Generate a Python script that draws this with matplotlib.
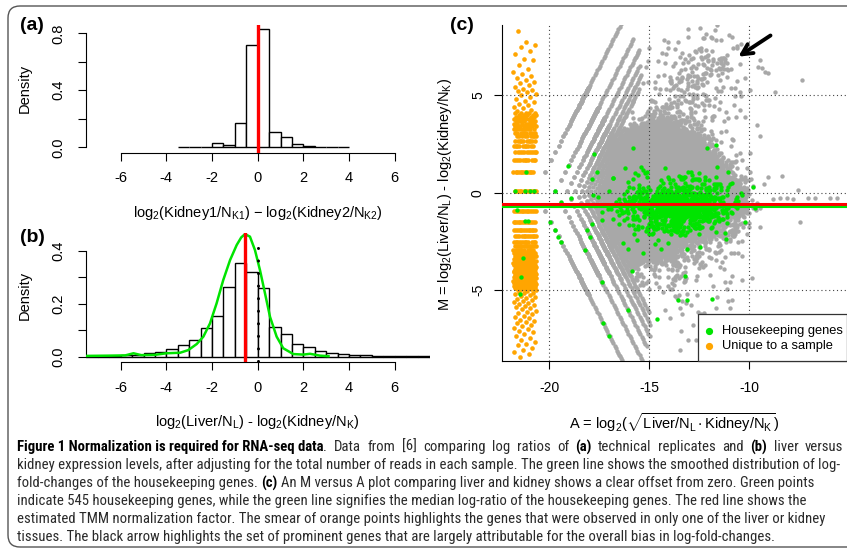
import numpy as np
import matplotlib
matplotlib.use('Agg')
import matplotlib.pyplot as plt
from matplotlib.path import Path
from matplotlib.patches import FancyBboxPatch, Rectangle
from matplotlib.transforms import IdentityTransform
from matplotlib.lines import Line2D
from matplotlib import font_manager as fm

W, H = 847, 550

# ---------------- panel (a): technical replicates ----------------
hist_a_edges = [-3.5, -3.0, -2.5, -2.0, -1.5, -1.0, -0.5, 0.0, 0.5, 1.0, 1.5, 2.0, 2.5, 3.0, 3.5, 4.0]
hist_a_density = [0.001, 0.003, 0.005, 0.032, 0.018, 0.173, 0.718, 0.828, 0.105, 0.075, 0.023, 0.012, 0.004, 0.001, 0.001]
tmm_a = 0.0

# ---------------- panel (b): liver vs kidney ----------------
hist_b_edges = [-7.5, -7.0, -6.5, -6.0, -5.5, -5.0, -4.5, -4.0, -3.5, -3.0, -2.5, -2.0, -1.5, -1.0, -0.5, 0.0,
                0.5, 1.0, 1.5, 2.0, 2.5, 3.0, 3.5, 4.0, 4.5, 5.0, 5.5, 6.0, 6.5, 7.0, 7.5, 8.0]
hist_b_density = [0.001, 0.002, 0.003, 0.005, 0.008, 0.013, 0.019, 0.029, 0.044, 0.063, 0.107, 0.154, 0.263, 0.356,
                  0.322, 0.262, 0.112, 0.086, 0.047, 0.036, 0.023, 0.014, 0.009, 0.006, 0.005, 0.003, 0.003, 0.004,
                  0.003, 0.002, 0.002]
hk_density_x = [-7.56, -6.5, -5.8, -5.44, -5.1, -4.5, -4.0, -3.4, -3.04, -2.67, -2.38, -2.09, -1.8, -1.51, -1.21,
                -0.92, -0.72, -0.56, -0.34, -0.12, 0.1, 0.32, 0.54, 0.83, 1.12, 1.56, 2.0, 2.29, 2.73, 3.1]
hk_density_y = [0.003, 0.004, 0.005, 0.013, 0.006, 0.007, 0.013, 0.015, 0.025, 0.048, 0.076, 0.126, 0.202, 0.29,
                0.366, 0.423, 0.452, 0.464, 0.455, 0.404, 0.328, 0.24, 0.151, 0.076, 0.032, 0.01, 0.008, 0.011,
                0.004, 0.002]
tmm_b = -0.56
zero_line_top = 0.43

# ---------------- panel (c): M versus A ----------------
lib_size_liver = 1656750
lib_size_kidney = 1751000
tmm_c = -0.56
hk_median_c = -0.73

# read-count values forming the lattice of (liver count, kidney count) pairs
fine_counts = np.unique(np.concatenate([np.arange(1, 41), np.round(40 * 1.05 ** np.arange(1, 150))])).astype(int)
line_counts = np.unique(np.concatenate([np.arange(1, 41), np.round(40 * 1.09 ** np.arange(1, 90))])).astype(int)

low_count_max = 40
upper_line_counts = [1, 2, 3, 4, 5, 6]
upper_line_top = [8.7, 8.0, 7.3, 6.6, 6.0, 5.4]
lower_line_counts = [1, 2, 3, 4, 5, 6]
lower_line_bottom = [-8.7, -8.7, -8.0, -7.4, -6.8, -6.2]

# outline of the solid part of the cloud, and of the thinner surrounding regions
dense_poly_A = [-17.2, -16.5, -15.5, -14.8, -14.0, -13.2, -12.6, -12.0, -11.3, -10.7, -10.4, -10.5, -11.1, -12.0,
                -13.0, -13.8, -14.8, -15.8, -16.6, -17.2]
dense_poly_M = [2.8, 3.1, 3.4, 3.6, 3.4, 3.0, 2.6, 1.9, 1.1, 0.4, -0.3, -0.8, -1.3, -1.9, -2.4, -2.8, -3.3, -3.8,
                -4.1, -4.2]
dense_share = 1.0
edge_share, edge_scale = 0.7, 0.3
medium_poly_A = [-16.6, -16.0, -15.8, -14.5, -13.0, -11.6, -10.9, -11.0, -11.8, -12.3, -11.6, -10.8, -10.2, -10.1,
                 -10.9, -12.0, -13.3, -14.6, -15.8, -16.4, -16.9, -17.0]
medium_poly_M = [3.2, 5.5, 7.6, 7.9, 7.6, 7.3, 6.7, 5.6, 4.6, 3.6, 2.4, 1.2, 0.0, -1.2, -2.5, -3.6, -4.6, -5.3, -5.2,
                 -4.3, -2.8, 2.5]
medium_share = 0.07
sparse_poly_A = [-16.0, -11.3, -10.4, -10.4, -10.0, -9.9, -10.4, -11.0, -12.3, -13.8, -16.6, -16.4, -16.0]
sparse_poly_M = [8.65, 8.65, 7.8, 3.0, 1.0, -1.9, -4.2, -6.0, -7.6, -8.7, -8.7, -5.5, 4.0]
sparse_share = 0.02

gray_extra_A = [-10.47, -10.22, -9.47, -9.38, -9.05, -8.72, -7.38, -9.47, -9.97, -8.38, -9.05, -9.8, -7.55, -9.97,
                -10.22, -9.47, -9.88, -9.63, -8.8, -8.47, -8.13, -7.8, -7.05, -6.72, -6.38, -5.97, -5.63, -7.47,
                -9.88, -10.38, -10.88, -10.13, -10.22, -9.22, -9.55]
gray_extra_M = [4.24, 5.87, 6.8, 6.38, 6.15, 5.18, 5.78, 2.91, 2.02, 0.86, 0.82, 0.34, 0.14, 5.27, 3.9, -0.8, -0.37,
                -0.54, -0.34, -0.29, -0.29, -0.34, -0.29, -0.29, -0.63, -0.29, -0.29, -1.49, -4.39, -4.48, -5.5,
                -1.06, -1.57, 6.2, 6.46]

# housekeeping genes: concentrated blob plus individually read points
hk_core_center = (-13.5, -0.7)
hk_core_axes = (2.2, 1.1)
hk_core_share = 0.62
green_extra_A = [-21.17, -21.70, -21.20, -20.96, -20.75, -21.60, -21.20, -21.05, -21.30, -21.40, -21.47,
                 -19.08, -19.70, -17.77, -17.63, -17.85, -16.83, -18.93, -17.80, -17.55,
                 -19.43, -19.97, -19.72, -19.55, -19.43, -18.22, -18.13, -17.97, -17.88, -17.38, -17.33, -17.00,
                 -17.38, -17.05, -16.67,
                 -15.88, -15.30, -16.05, -14.63, -13.22, -13.55, -13.13, -11.88, -13.13, -12.47, -11.18, -11.22,
                 -10.22, -9.72, -16.30, -16.05, -15.63,
                 -15.83, -16.80, -12.13, -11.67, -11.05, -10.88, -9.80, -15.30, -11.63]
green_extra_M = [1.08, 0.09, 0.09, 0.09, 0.09, -0.90, -1.45, -1.45, -3.37, -4.30, -5.20,
                 1.38, 0.09, 1.98, 1.08, 0.69, 0.74, -0.29, -0.12, -0.24,
                 -0.49, -1.49, -1.91, -2.26, -2.51, -2.94, -1.91, -2.26, -1.62, -4.56, -6.70, -7.33,
                 -1.00, -0.84, -0.49,
                 -4.00, -3.11, -6.02, -6.49, -4.27, -5.50, -5.50, -5.47, -2.90, -2.80, -2.39, -2.05,
                 -1.49, -0.80, -2.56, -2.90, -2.43,
                 2.28, 0.74, 2.28, 2.45, 1.08, 0.51, 0.31, 1.16, 1.33]

# genes seen in only one tissue: count in that tissue and number of genes
liver_only_counts = [1, 2, 3, 4, 5, 6, 7, 8, 9, 10, 11, 12, 13, 14, 15, 16,
                     17, 18, 19, 20, 21, 22, 24, 25, 26, 28, 30, 32, 34, 35, 36, 38, 41, 43, 46, 49, 52, 56,
                     60, 65, 69, 78, 88, 105, 111, 129, 148, 169, 178, 201, 294]
liver_only_genes = [13, 12, 11, 11, 10, 10, 9, 9, 8, 8, 7, 7, 6, 6, 5, 5,
                    1, 1, 1, 1, 1, 1, 1, 1, 1, 1, 1, 1, 1, 1, 1, 1, 1, 1, 1, 1, 1, 1,
                    1, 1, 1, 1, 1, 1, 1, 1, 1, 1, 1, 1, 1]
kidney_only_counts = [2, 3, 4, 5, 6, 7, 8, 9, 10, 11, 12, 13, 14, 15, 16, 17, 18, 19, 20, 21, 22, 23, 24, 25, 26,
                      27, 28, 29, 30, 31, 32,
                      34, 35, 36, 37, 38, 39, 40, 42, 43, 45, 46, 48, 50, 52, 54, 56, 58, 60, 62, 64, 67, 70, 73,
                      76, 80, 84, 88, 92, 96, 100, 105, 110, 116, 122, 128, 135, 142, 150, 160, 170, 182, 195,
                      210, 225, 240, 260, 280, 300, 330, 360]
kidney_only_genes = [13, 13, 13, 12, 12, 12, 11, 11, 11, 10, 10, 10, 9, 9, 9, 9, 8, 8, 8, 8, 7, 7, 7, 7, 7,
                     6, 6, 6, 6, 6, 6] + [1] * 50

caption_lines = [
    [("Figure 1 Normalization is required for RNA-seq data", True, False),
     (". Data from [6] comparing log ratios of", False, False), ("(a)", True, True),
     ("technical replicates and", False, True), ("(b)", True, True), ("liver versus", False, True)],
    [("kidney expression levels, after adjusting for the total number of reads in each sample. The green line "
      "shows the smoothed distribution of log-", False, False)],
    [("fold-changes of the housekeeping genes.", False, False), ("(c)", True, True),
     ("An M versus A plot comparing liver and kidney shows a clear offset from zero. Green points", False, True)],
    [("indicate 545 housekeeping genes, while the green line signifies the median log-ratio of the housekeeping "
      "genes. The red line shows the", False, False)],
    [("estimated TMM normalization factor. The smear of orange points highlights the genes that were observed "
      "in only one of the liver or kidney", False, False)],
    [("tissues. The black arrow highlights the set of prominent genes that are largely attributable for the "
      "overall bias in log-fold-changes.", False, False)],
]
caption_line1_right = 843

# ---------------- style ----------------
plt.rcParams['font.family'] = ['Liberation Sans', 'DejaVu Sans']
plt.rcParams['mathtext.fontset'] = 'custom'
plt.rcParams['mathtext.rm'] = 'Liberation Sans'
plt.rcParams['mathtext.it'] = 'Liberation Sans:italic'
plt.rcParams['mathtext.bf'] = 'Liberation Sans:bold'
plt.rcParams['mathtext.sf'] = 'Liberation Sans'
plt.rcParams['mathtext.default'] = 'regular'

GRAY = '#A8A8A8'
GREEN = '#00E400'
ORANGE = '#FFA500'
RED = '#FF0000'

fig = plt.figure(figsize=(W / 100, H / 100), dpi=100)
fig.patch.set_facecolor('white')


def px_axes(l, t, r, b):
    return fig.add_axes([l / W, 1 - b / H, (r - l) / W, (b - t) / H])


def fx(x):
    return x / W


def fy(y):
    return 1 - y / H


def r_style(ax, ybounds, yticks, ylabels, ypad):
    ax.spines['top'].set_visible(False)
    ax.spines['right'].set_visible(False)
    ax.spines['bottom'].set_bounds(-6, 6)
    ax.spines['left'].set_bounds(*ybounds)
    for s in ('left', 'bottom'):
        ax.spines[s].set_linewidth(0.8)
    ax.set_xticks([-6, -4, -2, 0, 2, 4, 6], labels=['-6', '-4', '-2', '0', '2', '4', '6'])
    ax.set_yticks(yticks, labels=ylabels)
    ax.tick_params(axis='both', direction='out', length=5.5, width=0.8, labelsize=10.5)
    ax.tick_params(axis='x', pad=8)
    ax.tick_params(axis='y', pad=ypad)
    for lab in ax.get_yticklabels():
        lab.set_rotation(90)
        lab.set_va('center')
    ax.set_facecolor('none')


# ---------- (a) ----------
ax_a = px_axes(86, 25.2, 430, 152.7)
ax_a.set_xlim(-7.52, 7.547)
ax_a.set_ylim(-0.0379, 0.857)
ax_a.bar(hist_a_edges[:-1], hist_a_density, width=np.diff(hist_a_edges), align='edge',
         facecolor='white', edgecolor='black', linewidth=1.0, zorder=2)
ax_a.axvline(tmm_a, color=RED, lw=2.4, zorder=3)
r_style(ax_a, (0, 0.8), [0, 0.2, 0.4, 0.6, 0.8], ['0.0', '', '0.4', '', '0.8'], 9)

# ---------- (b) ----------
ax_b = px_axes(86, 233.3, 430, 362.3)
ax_b.set_xlim(-7.52, 7.547)
ax_b.set_ylim(-0.0212, 0.4674)
ax_b.bar(hist_b_edges[:-1], hist_b_density, width=np.diff(hist_b_edges), align='edge',
         facecolor='white', edgecolor='black', linewidth=1.0, zorder=2)
ax_b.plot(hk_density_x, hk_density_y, color=GREEN, lw=1.8, zorder=3, solid_joinstyle='round')
ax_b.axvline(tmm_b, color=RED, lw=2.4, zorder=4)
ax_b.plot([0, 0], [-0.015, zero_line_top], color='black', lw=2.2, linestyle=(0, (0.01, 4.1)),
          dash_capstyle='round', zorder=5)
r_style(ax_b, (0, 0.4), [0, 0.1, 0.2, 0.3, 0.4], ['0.0', '', '0.2', '', '0.4'], 9)

# ---------- (c) ----------
ax_c = px_axes(502.3, 25, 853.3, 361)
ax_c.set_xlim(-22.35, -4.8)
ax_c.set_ylim(-8.63, 8.6)


def lattice_AM(counts):
    K, J = np.meshgrid(counts, counts, indexing='ij')
    IK, IJ = np.meshgrid(np.arange(len(counts)), np.arange(len(counts)), indexing='ij')
    lk = np.log2(K / lib_size_liver)
    lj = np.log2(J / lib_size_kidney)
    return K.ravel(), J.ravel(), IK.ravel(), IJ.ravel(), (0.5 * (lk + lj)).ravel(), (lk - lj).ravel()


def in_poly(pa, pm, A, M):
    return Path(np.column_stack([pa, pm])).contains_points(np.column_stack([A, M]))


def outside_dist(pa, pm, A, M):
    P = np.column_stack([A, M])
    V = np.column_stack([pa, pm])
    V2 = np.roll(V, -1, axis=0)
    dmin = np.full(len(A), np.inf)
    for a, b in zip(V, V2):
        ab = b - a
        t = np.clip(((P - a) @ ab) / (ab @ ab), 0, 1)
        proj = a + t[:, None] * ab
        dmin = np.minimum(dmin, np.hypot(P[:, 0] - proj[:, 0], P[:, 1] - proj[:, 1]))
    return np.where(in_poly(pa, pm, A, M), 0.0, dmin)


Kf, Jf, IKf, IJf, Af, Mf = lattice_AM(fine_counts)
# deterministic dither mask (quadratic Weyl sequence) used to thin the count lattice
dither_gray = (0.5 + 0.6180339887 * IKf.astype(float) ** 2 + 0.4142135624 * IJf.astype(float) ** 2) % 1.0
dither_green = (0.25 + 0.7548776662 * IKf.astype(float) ** 2 + 0.5698402910 * IJf.astype(float) ** 2) % 1.0

delta = outside_dist(dense_poly_A, dense_poly_M, Af, Mf)
share = np.where(delta == 0, dense_share, edge_share * np.exp(-delta / edge_scale))
share = share + np.where(in_poly(medium_poly_A, medium_poly_M, Af, Mf), medium_share,
                         np.where(in_poly(sparse_poly_A, sparse_poly_M, Af, Mf), sparse_share, 0.0))
keep_f = ((Kf <= low_count_max) & (Jf <= low_count_max)) | (share > dither_gray)

Kl, Jl, _, _, Al, Ml = lattice_AM(line_counts)
keep_l = np.zeros(len(Kl), dtype=bool)
for c, top in zip(upper_line_counts, upper_line_top):
    keep_l |= (Jl == c) & (Ml <= top)
for c, bot in zip(lower_line_counts, lower_line_bottom):
    keep_l |= (Kl == c) & (Ml >= bot)

gray_A = np.concatenate([Af[keep_f], Al[keep_l], gray_extra_A])
gray_M = np.concatenate([Mf[keep_f], Ml[keep_l], gray_extra_M])
ax_c.scatter(gray_A, gray_M, s=10, c=GRAY, linewidths=0, zorder=2)

# orange: genes present in one tissue only (zero count replaced by 1), jittered along A
jit_lo, jit_hi = -21.8, -20.65
oA, oM = [], []
n = 0
for cnt, ng in zip(liver_only_counts, liver_only_genes):
    m = np.log2(cnt / lib_size_liver) - np.log2(1 / lib_size_kidney)
    for _ in range(ng):
        oA.append(jit_lo + (jit_hi - jit_lo) * ((0.5 + n * 0.6180339887) % 1.0))
        oM.append(m)
        n += 1
for cnt, ng in zip(kidney_only_counts, kidney_only_genes):
    m = np.log2(1 / lib_size_liver) - np.log2(cnt / lib_size_kidney)
    for _ in range(ng):
        oA.append(jit_lo + (jit_hi - jit_lo) * ((0.5 + n * 0.6180339887) % 1.0))
        oM.append(m)
        n += 1
ax_c.scatter(oA, oM, s=11, c=ORANGE, linewidths=0, zorder=3)

# green: housekeeping genes
r2 = ((Af - hk_core_center[0]) / hk_core_axes[0]) ** 2 + ((Mf - hk_core_center[1]) / hk_core_axes[1]) ** 2
hk_sel = keep_f & (hk_core_share * np.exp(-1.3 * r2) > dither_green)
green_A = np.concatenate([Af[hk_sel], green_extra_A])
green_M = np.concatenate([Mf[hk_sel], green_extra_M])
ax_c.scatter(green_A, green_M, s=10, c=GREEN, linewidths=0, zorder=4)

for v in (-20, -15, -10):
    ax_c.axvline(v, color='#444444', lw=0.8, ls=(0, (1, 2.5)), zorder=5)
for h in (-5, 0, 5):
    ax_c.axhline(h, color='#444444', lw=0.8, ls=(0, (1, 2.5)), zorder=5)
ax_c.axhline(tmm_c, color=RED, lw=2.2, zorder=6)
ax_c.axhline(hk_median_c, color=GREEN, lw=1.5, zorder=6)

ax_c.spines['top'].set_visible(False)
ax_c.spines['right'].set_visible(False)
for s in ('left', 'bottom'):
    ax_c.spines[s].set_linewidth(0.8)
ax_c.set_xticks([-20, -15, -10], labels=['-20', '-15', '-10'])
ax_c.set_yticks([-5, 0, 5], labels=['-5', '0', '5'])
ax_c.tick_params(axis='both', direction='out', length=5.5, width=0.8, labelsize=10)
ax_c.tick_params(axis='x', pad=9)
ax_c.tick_params(axis='y', pad=7)
for lab in ax_c.get_yticklabels():
    lab.set_rotation(90)
    lab.set_va('center')

# legend box
fig.add_artist(Rectangle((fx(698.3), fy(361)), fx(846.5) - fx(698.3), fy(314.3) - fy(361),
                         transform=fig.transFigure, facecolor='white', edgecolor='#333333', lw=0.9, zorder=10))
fig.add_artist(Line2D([fx(709.3)], [fy(331)], marker='o', ms=4.2, color=GREEN, ls='none',
                      transform=fig.transFigure, zorder=11))
fig.add_artist(Line2D([fx(709.3)], [fy(346)], marker='o', ms=4.2, color=ORANGE, ls='none',
                      transform=fig.transFigure, zorder=11))
fig.text(fx(721.7), fy(331), 'Housekeeping genes', fontsize=9.3, va='center', ha='left', zorder=11)
fig.text(fx(721.7), fy(346), 'Unique to a sample', fontsize=9.3, va='center', ha='left', zorder=11)

# arrow
ax_c.annotate('', xy=(738.3, H - 56.7), xycoords='figure pixels', xytext=(770.5, H - 35.5),
              textcoords='figure pixels',
              arrowprops=dict(arrowstyle='->,head_length=0.75,head_width=0.38', lw=2.8, color='black',
                              shrinkA=0, shrinkB=0), zorder=12)

# ---------- texts ----------
fig.text(fx(31.7), fy(25), '(a)', fontsize=14, fontweight='bold', ha='center', va='center')
fig.text(fx(32.5), fy(237.3), '(b)', fontsize=14, fontweight='bold', ha='center', va='center')
fig.text(fx(461.7), fy(25.8), '(c)', fontsize=14, fontweight='bold', ha='center', va='center')
fig.text(fx(25), fy(88.5), 'Density', fontsize=10.5, rotation=90, ha='center', va='center')
fig.text(fx(25), fy(295), 'Density', fontsize=10.5, rotation=90, ha='center', va='center')
fig.text(fx(257.5), fy(213.3), r'log$_2$(Kidney1/N$_{K1}$) $-$ log$_2$(Kidney2/N$_{K2}$)', fontsize=10.5,
         ha='center', va='center')
fig.text(fx(257), fy(421.7), r'log$_2$(Liver/N$_L$) - log$_2$(Kidney/N$_K$)', fontsize=10.5,
         ha='center', va='center')
fig.text(fx(445), fy(194), r'M = log$_2$(Liver/N$_L$) - log$_2$(Kidney/N$_K$)', fontsize=10.5, rotation=90,
         ha='center', va='center')
fig.text(fx(674), fy(423), r'A = log$_2$($\sqrt{Liver/N_L\cdot Kidney/N_K}$)', fontsize=10.5,
         ha='center', va='center')

# rounded frame
fig.add_artist(FancyBboxPatch((8, H - 547), 900, 541, boxstyle='round,pad=0,rounding_size=12',
                              transform=IdentityTransform(), facecolor='none', edgecolor='#555555', lw=1.0,
                              zorder=20))

# ---------- caption ----------
names = {f.name for f in fm.fontManager.ttflist}
cap_family = 'Liberation Sans'
for cand in ('Liberation Sans Narrow', 'Roboto Condensed', 'Open Sans Condensed', 'Roboto'):
    if cand in names:
        cap_family = cand
        break
renderer = fig.canvas.get_renderer()


def measure(s, size, bold):
    t = fig.text(0, 0, s, fontsize=size, fontweight='bold' if bold else 'normal', family=cap_family)
    w = t.get_window_extent(renderer).width
    t.remove()
    return w


ref_w = measure(caption_lines[1][0][0], 10, False)
cap_size = 10 * 816 / ref_w
space_w = measure('n n', cap_size, False) - measure('nn', cap_size, False)
for i, runs in enumerate(caption_lines):
    x0 = 17.0
    y = 447 + 18 * i
    extra = 0.0
    if i == 0:
        widths = [measure(t, cap_size, b) for t, b, _ in runs]
        n_sp = sum(1 for t, b, s in runs if s) + sum(t.count(' ') for t, b, s in runs if not b)
        natural = sum(widths) + space_w * sum(1 for t, b, s in runs if s)
        extra = max(0.0, (caption_line1_right - x0 - natural) / max(n_sp, 1))
    x = x0
    for txt, bold, sp in runs:
        if sp:
            x += space_w + extra
        if extra > 0 and not bold:
            words = txt.split(' ')
            for wi, wd in enumerate(words):
                if wi > 0:
                    x += space_w + extra
                fig.text(fx(x), fy(y), wd, fontsize=cap_size, family=cap_family, color='#2a2a2a',
                         ha='left', va='center')
                x += measure(wd, cap_size, False)
        else:
            fig.text(fx(x), fy(y), txt, fontsize=cap_size, fontweight='bold' if bold else 'normal',
                     family=cap_family, color='black' if bold else '#2a2a2a', ha='left', va='center')
            x += measure(txt, cap_size, bold)

fig.savefig('out.png', dpi=100)
